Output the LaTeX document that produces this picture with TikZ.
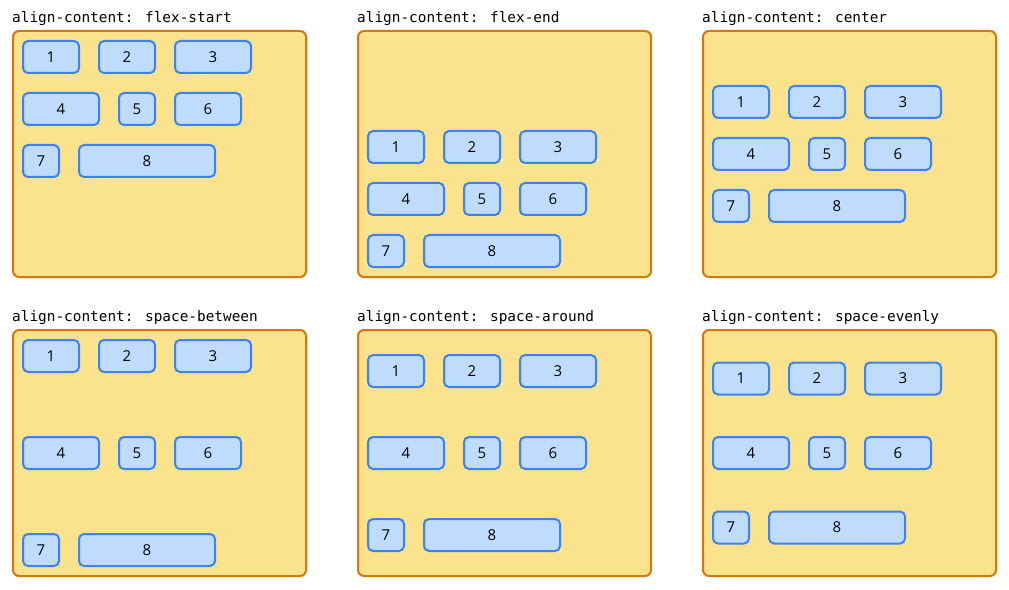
\documentclass[tikz,border=0pt]{standalone}
\usepackage{fontspec}
\usepackage{tikz}
\usetikzlibrary{positioning}
\newfontfamily\codefont{DejaVu Sans Mono}
\newfontfamily\itemfont{Open Sans}
\definecolor{boxfill}{HTML}{FBE38E}
\definecolor{boxline}{HTML}{D97706}
\definecolor{itemfill}{HTML}{BFDBFE}
\definecolor{itemline}{HTML}{3B82F6}

\begin{document}
\begin{tikzpicture}[x=1bp, y=-1bp,
container/.style={rectangle, rounded corners=6bp, draw=boxline, fill=boxfill, line width=2bp, outer sep=1bp, inner sep=0pt, anchor=north west, minimum width=293bp, minimum height=246bp},
item/.style={rectangle, rounded corners=5bp, draw=itemline, fill=itemfill, line width=2bp, outer sep=1bp, inner sep=0pt, anchor=north west, minimum height=32bp, font=\itemfont\fontsize{15bp}{17bp}\selectfont},
title/.style={anchor=base west, inner sep=0pt, font=\codefont\fontsize{14.4bp}{16bp}\selectfont},
]

\tikzset{
  pics/flexbox/.style args={#1,#2,#3,#4}{
     code={
         \node [container] (-box) at (0,0) {};
         \node [title] (-title) at (0,-7.5) {#1};
         % first line
         \node [item, minimum width=56bp] (-i1) at (10,#2) {1};
         \node [item, minimum width=56bp] (-i2) at (86,#2) {2};
         \node [item, minimum width=76bp] (-i3) at (162,#2) {3};
         % second line
         \node [item, minimum width=76bp] (-i4) at (10,#3) {4};
         \node [item, minimum width=36bp] (-i5) at (106,#3) {5};
         \node [item, minimum width=66bp] (-i6) at (162,#3) {6};
         % third line
         \node [item, minimum width=36bp] (-i7) at (10,#4) {7};
         \node [item, minimum width=136bp] (-i8) at (66,#4) {8};
     }
  }
}

\useasboundingbox (0,0) rectangle (1009,590);

%Panels
\pic (start) at (12,30) {flexbox={align-content: flex-start, 10, 62, 114}};
\pic (end) at (357,30) {flexbox={align-content: flex-end, 100, 152, 204}};
\pic (center) at (702,30) {flexbox={align-content: center, 55, 107, 159}};
\pic (between) at (12,329) {flexbox={align-content: space-between, 10, 107, 204}};
\pic (around) at (357,329) {flexbox={align-content: space-around, 25, 107, 189}};
\pic (evenly) at (702,329) {flexbox={align-content: space-evenly, 32.5, 107, 181.5}};
\end{tikzpicture}
\end{document}
